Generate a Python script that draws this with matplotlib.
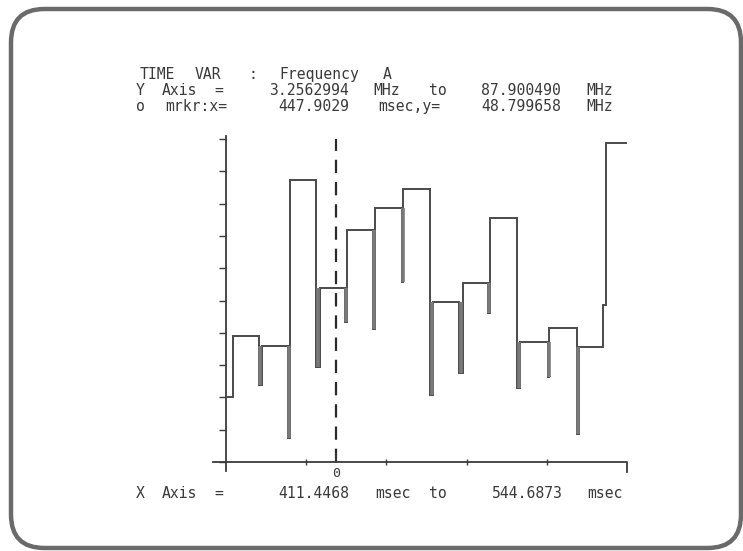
"""
Logic analyzer screen dump: TIME VAR of Frequency A.
"""
import re
import matplotlib
matplotlib.use("Agg")
import matplotlib.pyplot as plt
from matplotlib.patches import FancyBboxPatch
import numpy as np

# --- data ---------------------------------------------------------------
x_min, x_max = 411.4468, 544.6873          # msec
y_min, y_max = 3.2562994, 87.900490        # MHz
marker_x, marker_y = 447.9029, 48.799658

# step segments: start / end time (msec) and level (MHz)
seg_start = [411.45, 413.67, 423.31, 432.71, 442.68, 451.75, 460.96, 470.36,
             480.33, 490.10, 499.17, 509.14, 518.87, 528.84, 536.81, 537.71]
seg_end = [413.67, 422.51, 432.15, 441.35, 450.99, 460.39, 469.83, 479.23,
           488.97, 498.60, 508.24, 518.34, 527.98, 536.81, 537.71, 544.59]
seg_level = [20.37, 36.28, 33.66, 77.16, 48.80, 64.05, 69.82, 74.72,
             45.26, 50.08, 67.12, 34.78, 38.29, 33.46, 44.40, 86.93]
# glitch low value at the end of each segment (None = clean transition)
glitch = [None, 23.43, 9.55, 28.23, 40.02, 38.11, 50.51, 20.81,
          26.58, 42.30, 22.65, 25.61, 10.59, None, None]

title_lines = [
    "TIME VAR  : Frequency A",
    "Y Axis =   3.2562994 MHz  to  87.900490 MHz",
    "o mrkr:x=   447.9029 msec,y=  48.799658 MHz",
]
xaxis_line = "X Axis =    411.4468 msec to   544.6873 msec"

W, H = 743, 551
ink = "#3a3a3a"
PITCH = 11.2     # px per character cell on the screen font
LEFT = 135


def screen_text(line, base_y):
    # the screen font is a wide fixed pitch one; centre each word on its cells
    for m in re.finditer(r"\S+", line):
        cx = LEFT + (m.start() + len(m.group()) / 2) * PITCH
        fig.text(cx / W, (H - base_y) / H, m.group(), family="DejaVu Sans Mono",
                 fontsize=10.6, color=ink, ha="center", va="baseline")


fig = plt.figure(figsize=(W / 100, H / 100), dpi=100)
fig.patch.set_facecolor("white")

# rounded screen bezel
bezel = FancyBboxPatch((11 / W, 3 / H), 730 / W, 539 / H,
                       boxstyle="round,pad=0,rounding_size=0.045",
                       transform=fig.transFigure, fill=False,
                       edgecolor="#6a6a6a", linewidth=3.2,
                       mutation_aspect=W / H)
fig.patches.append(bezel)

# plot area in pixel terms: x 226..627, y 139..462
ax = fig.add_axes([226 / W, (H - 462) / H, 401 / W, 323 / H])
ax.set_xlim(x_min, x_max)
ax.set_ylim(y_min, y_max)
for s in ax.spines.values():
    s.set_visible(False)
ax.patch.set_alpha(0)

# axis lines (extend a bit past the corner like on the screen)
ax.plot([0, 0], [-0.028, 1.01], transform=ax.transAxes, color=ink,
        lw=1.3, clip_on=False)
ax.plot([-0.032, 1.0, 1.0], [0, 0, -0.03], transform=ax.transAxes,
        color=ink, lw=1.3, clip_on=False)

ax.set_yticks(np.linspace(y_min, y_max, 11))
ax.set_xticks(np.linspace(x_min, x_max, 6)[1:-1])
ax.tick_params(axis="y", direction="out", length=5, width=1, color=ink,
               labelleft=False)
ax.tick_params(axis="x", direction="inout", length=4, width=1, color=ink,
               labelbottom=False)

# trace: level, drop to glitch, back up to next level
xs, ys = [], []
for i in range(len(seg_level)):
    xs += [seg_start[i], seg_end[i]]
    ys += [seg_level[i], seg_level[i]]
    if i < len(glitch) and glitch[i] is not None:
        xs += [seg_end[i], seg_start[i + 1]]
        ys += [glitch[i], glitch[i]]
ax.plot(xs, ys, color="#4a4a4a", lw=1.4, solid_joinstyle="miter")

# glitches look like thick grey bars
for i, g in enumerate(glitch):
    if g is None:
        continue
    xm = (seg_end[i] + seg_start[i + 1]) / 2
    low = min(seg_level[i], seg_level[i + 1])
    ax.vlines(xm, g, low, color="#7a7a7a", lw=2.6)

# marker cursor
ax.axvline(marker_x, color="#2a2a2a", lw=1.6, dashes=(6, 4))
ax.plot([marker_x, marker_x], [0, 0.025], transform=ax.get_xaxis_transform(),
        color=ink, lw=1.3, clip_on=False)
ax.text(marker_x, -0.015, "0", transform=ax.get_xaxis_transform(),
        ha="center", va="top", fontsize=9.5, family="DejaVu Sans Mono",
        color=ink)

# screen text
for k, line in enumerate(title_lines):
    screen_text(line, 79 + 16 * k)
screen_text(xaxis_line, 498)

fig.savefig("out.png", dpi=100)
